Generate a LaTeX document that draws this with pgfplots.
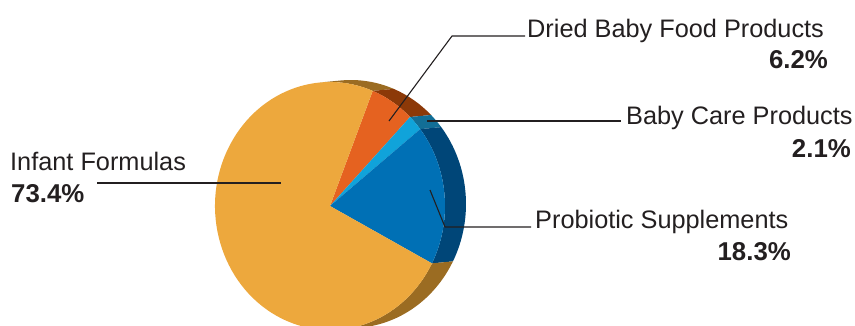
\documentclass[border=0pt]{standalone}
\usepackage{pgfplots}
\usepackage{pgfplotstable}
\pgfplotsset{compat=1.18}
\usepackage{fontspec}
\setmainfont{Liberation Sans}

\definecolor{infant}{RGB}{237,168,61}
\definecolor{infantS}{RGB}{155,108,34}
\definecolor{dried}{RGB}{229,98,32}
\definecolor{driedS}{RGB}{140,57,8}
\definecolor{care}{RGB}{16,163,218}
\definecolor{careS}{RGB}{18,110,150}
\definecolor{probio}{RGB}{0,112,181}
\definecolor{probioS}{RGB}{0,70,120}
\definecolor{txt}{RGB}{35,31,32}

\pgfplotstableread[col sep=comma]{
label,value
Dried Baby Food Products,6.2
Baby Care Products,2.1
Probiotic Supplements,18.3
Infant Formulas,73.4
}\piedata

% geometry (axis units = pt)
\def\cx{330}\def\cy{119}\def\rx{115}\def\ry{124}\def\dx{21}\def\dy{2}

\newcommand\pieslice[3]{\fill[#1] (axis cs:\cx,\cy) -- (axis cs:{\cx+\rx*cos(#2)},{\cy+\ry*sin(#2)}) arc[start angle=#2, end angle=#3, x radius=\rx pt, y radius=\ry pt] -- cycle;}
\newcommand\pieband[3]{\fill[#1] (axis cs:{\cx+\rx*cos(#2)},{\cy+\ry*sin(#2)}) arc[start angle=#2, end angle=#3, x radius=\rx pt, y radius=\ry pt] -- (axis cs:{\cx+\dx+\rx*cos(#3)},{\cy+\dy+\ry*sin(#3)}) arc[start angle=#3, end angle=#2, x radius=\rx pt, y radius=\ry pt] -- cycle;}

\tikzset{lab/.style={txt, inner sep=0pt, font=\fontsize{25.3}{30}\selectfont},
         pct/.style={txt, inner sep=0pt, font=\bfseries\fontsize{25.8}{30}\selectfont}}

\begin{document}
\begin{tikzpicture}
\pgfplotstablegetelem{0}{value}\of\piedata \pgfmathsetmacro\vA{\pgfplotsretval}
\pgfplotstablegetelem{1}{value}\of\piedata \pgfmathsetmacro\vB{\pgfplotsretval}
\pgfplotstablegetelem{2}{value}\of\piedata \pgfmathsetmacro\vC{\pgfplotsretval}
\pgfplotstablegetelem{3}{value}\of\piedata \pgfmathsetmacro\vD{\pgfplotsretval}
\pgfmathsetmacro\aA{68.2}
\pgfmathsetmacro\aB{\aA-3.6*\vA}
\pgfmathsetmacro\aC{\aB-3.6*\vB}
\pgfmathsetmacro\aD{\aC-3.6*\vC}
\pgfmathsetmacro\aE{\aD-3.6*\vD}
\global\let\aA\aA \global\let\aB\aB \global\let\aC\aC \global\let\aD\aD \global\let\aE\aE
\path[use as bounding box] (0,0) rectangle (855pt,325pt);
\clip (0,0) rectangle (855pt,325pt);
\begin{axis}[at={(0,0)}, anchor=origin, x=1pt, y=1pt,
  xmin=0, xmax=855, ymin=0, ymax=325, hide axis, clip=false]
% side bands
\pieband{infantS}{95.05}{\aA}
\pieband{driedS}{\aA}{\aB}
\pieband{careS}{\aB}{\aC}
\pieband{probioS}{\aC}{\aD}
\pieband{infantS}{\aD}{-84.95}
% face
\pieslice{dried}{\aA}{\aB}
\pieslice{care}{\aB}{\aC}
\pieslice{probio}{\aC}{\aD}
\pieslice{infant}{\aD}{\aE}
% leader lines
\draw[txt, line width=1.1pt] (axis cs:389,204) -- (axis cs:452,289) -- (axis cs:525,289);
\draw[txt, line width=1.1pt] (axis cs:427,204) -- (axis cs:621,204);
\draw[txt, line width=1.1pt] (axis cs:430,135) -- (axis cs:445,98) -- (axis cs:531,98);
\draw[txt, line width=1.1pt] (axis cs:97,142) -- (axis cs:281,142);
% labels
\node[lab, anchor=base west] at (axis cs:527,288) {Dried Baby Food Products};
\node[pct, anchor=base east] at (axis cs:828,257) {6.2\%};
\node[lab, anchor=base west] at (axis cs:626,201) {Baby Care Products};
\node[pct, anchor=base east] at (axis cs:851,168) {2.1\%};
\node[lab, anchor=base west] at (axis cs:535,97) {Probiotic Supplements};
\node[pct, anchor=base east] at (axis cs:791,65) {18.3\%};
\node[lab, anchor=base west] at (axis cs:10,155) {Infant Formulas};
\node[pct, anchor=base west] at (axis cs:11,123) {73.4\%};
\end{axis}
\end{tikzpicture}
\end{document}
